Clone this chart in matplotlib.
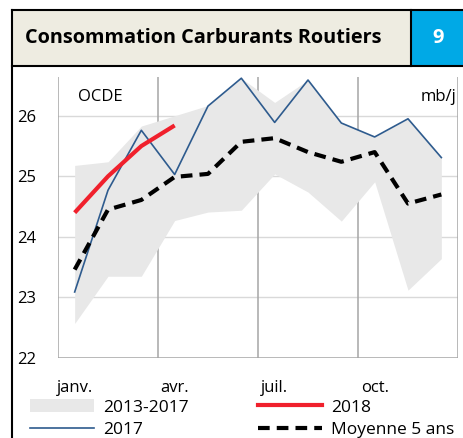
import matplotlib.pyplot as plt
import numpy as np
from matplotlib.patches import Patch, Rectangle
from matplotlib.lines import Line2D

plt.rcParams["font.family"] = ["Open Sans", "DejaVu Sans"]

months = ["janv.", "févr.", "mars", "avr.", "mai", "juin", "juil.", "août", "sept.", "oct.", "nov.", "déc."]
band_low = [22.57, 23.35, 23.35, 24.27, 24.41, 24.44, 25.04, 24.74, 24.26, 24.91, 23.12, 23.64]
band_high = [25.18, 25.24, 25.83, 26.00, 26.17, 26.62, 26.22, 26.59, 25.88, 25.65, 25.95, 25.31]
y2017 = [23.09, 24.77, 25.76, 25.03, 26.16, 26.62, 25.89, 26.59, 25.88, 25.65, 25.95, 25.31]
y2018 = [24.40, 25.00, 25.50, 25.84]
avg5 = [23.46, 24.45, 24.61, 24.99, 25.04, 25.57, 25.63, 25.40, 25.24, 25.40, 24.55, 24.70]
yticks = [22, 23, 24, 25, 26]

W, H = 464, 438
fig = plt.figure(figsize=(W / 100, H / 100), dpi=100)


def fx(px):
    return px / W


def fy(py):
    return 1 - py / H


# title banner
fig.patches.append(Rectangle((fx(12), fy(66)), fx(411 - 12), fy(10) - fy(66),
                             transform=fig.transFigure, facecolor="#EEECE1", edgecolor="none"))
fig.patches.append(Rectangle((fx(411), fy(66)), fx(W - 411), fy(10) - fy(66),
                             transform=fig.transFigure, facecolor="#00A9E6", edgecolor="none"))
for seg in [((12, 12), (10, H)), ((12, W), (10, 10)), ((12, W), (66, 66)), ((411, 411), (10, 66))]:
    fig.add_artist(Line2D([fx(seg[0][0]), fx(seg[0][1])], [fy(seg[1][0]), fy(seg[1][1])],
                          transform=fig.transFigure, color="black", lw=1.5))
fig.text(fx(25), fy(38), "Consommation Carburants Routiers", fontsize=14.3, fontweight="bold",
         ha="left", va="center")
fig.text(fx(438), fy(38), "9", fontsize=14.5, fontweight="bold", color="white", ha="center", va="center")

ax = fig.add_axes([fx(58), fy(358), fx(458 - 58), fy(77) - fy(358)])
x = np.arange(len(months))
ax.fill_between(x, band_low, band_high, color="#E8E8E8", lw=0, zorder=1, label="2013-2017")
ax.plot(x, y2017, color="#2E5B8E", lw=1.2, zorder=3, label="2017")
ax.plot(x[:len(y2018)], y2018, color="#F0202C", lw=3, zorder=4, solid_capstyle="butt", label="2018")
ax.plot(x, avg5, color="black", lw=3, ls=(0, (2.8, 1.7)), zorder=4, label="Moyenne 5 ans")

ax.set_xlim(-0.5, 11.5)
ax.set_ylim(22, 26.64)
for yv in yticks[1:]:
    ax.axhline(yv, color="#D9D9D9", lw=1, zorder=0)
for xv in [-0.5, 2.5, 5.5, 8.5, 11.5]:
    ax.axvline(xv, color="#A6A6A6", lw=1.1, zorder=0)
ax.axhline(22, color="#A6A6A6", lw=1.1, zorder=0)
for s in ax.spines.values():
    s.set_visible(False)
ax.set_yticks(yticks)
ax.set_yticklabels([str(v) for v in yticks], fontsize=12)
ax.set_xticks(x[::3])
ax.set_xticklabels(months[::3], fontsize=12)
ax.tick_params(length=0)
ax.tick_params(axis="y", pad=16)
ax.tick_params(axis="x", pad=16)
ax.text(0.05, 0.93, "OCDE", transform=ax.transAxes, fontsize=12, va="center", ha="left")
ax.text(0.995, 0.93, "mb/j", transform=ax.transAxes, fontsize=12, va="center", ha="right")

handles = [Patch(facecolor="#E8E8E8", edgecolor="none", label="2013-2017"),
           Line2D([], [], color="#2E5B8E", lw=1.2, label="2017"),
           Line2D([], [], color="#F0202C", lw=3, label="2018"),
           Line2D([], [], color="black", lw=3, ls=(0, (2.8, 1.7)), label="Moyenne 5 ans")]
fig.legend(handles=handles, ncol=2, loc="upper left", bbox_to_anchor=(fx(30), fy(399)),
           frameon=False, fontsize=12.5, handlelength=3.7, handleheight=0.8, handletextpad=0.5,
           columnspacing=4.0, labelspacing=0.35, borderpad=0, borderaxespad=0)

fig.savefig("out.png", dpi=100)
